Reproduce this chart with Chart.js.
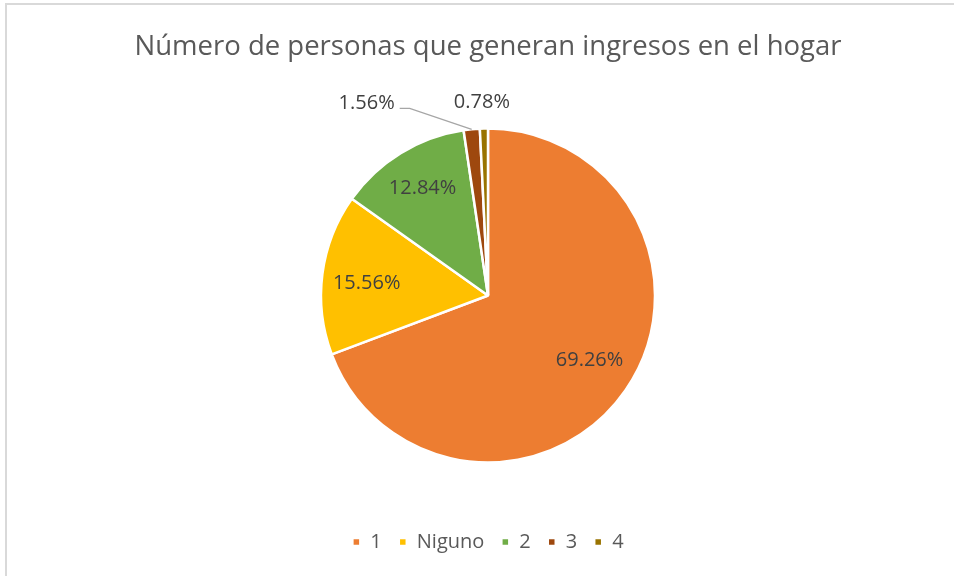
<!DOCTYPE html>
<html>
<head>
<meta charset="utf-8">
<script src="https://cdn.jsdelivr.net/npm/chart.js@4/dist/chart.umd.min.js"></script>
<style>
  html, body { margin: 0; padding: 0; background: #fff; }
  #wrap { position: relative; width: 954px; height: 576px; overflow: hidden; }
  #frame { position: absolute; left: 5px; top: 3px; width: 1000px; height: 620px; border: 2px solid #d9d9d9; box-sizing: border-box; pointer-events: none; }
  canvas { position: absolute; left: 0; top: 0; }
</style>
</head>
<body>
<div id="wrap">
  <canvas id="c" width="954" height="576"></canvas>
  <div id="frame"></div>
</div>
<script>
const titleText = 'Número de personas que generan ingresos en el hogar';
const categories = ['1', 'Niguno', '2', '3', '4'];
const counts = [178, 40, 33, 4, 2];
const percentLabels = ['69.26%', '15.56%', '12.84%', '1.56%', '0.78%'];
const colors = ['#ED7D31', '#FFC000', '#70AD47', '#9E480E', '#997300'];

// label placement styling: inside labels by radial fraction, outside labels by pixel offset from arc edge
const labelStyle = [
  { inside: true, r: 0.72, da: -0.04 },
  { inside: true, r: 0.73, da: -0.03 },
  { inside: true, r: 0.75, da: 0 },
  { inside: false, dx: -77, dy: -26, align: 'right', leader: true },
  { inside: false, dx: -2, dy: -26, align: 'center', leader: false }
];

const labelPlugin = {
  id: 'pieLabels',
  afterDatasetsDraw(chart) {
    const ctx = chart.ctx;
    const meta = chart.getDatasetMeta(0);
    ctx.save();
    ctx.font = '20px "Open Sans"';
    ctx.fillStyle = '#404040';
    ctx.textBaseline = 'middle';
    meta.data.forEach((arc, i) => {
      const p = arc.getProps(['x', 'y', 'startAngle', 'endAngle', 'outerRadius'], true);
      const mid = (p.startAngle + p.endAngle) / 2;
      const st = labelStyle[i];
      const txt = percentLabels[i];
      if (st.inside) {
        const rr = p.outerRadius * st.r;
        const a = mid + st.da;
        ctx.textAlign = 'center';
        ctx.fillText(txt, p.x + Math.cos(a) * rr, p.y + Math.sin(a) * rr);
      } else {
        const ex = p.x + Math.cos(mid) * p.outerRadius;
        const ey = p.y + Math.sin(mid) * p.outerRadius;
        const lx = ex + st.dx, ly = ey + st.dy;
        ctx.textAlign = st.align;
        ctx.fillText(txt, lx, ly);
        if (st.leader) {
          ctx.strokeStyle = '#a6a6a6';
          ctx.lineWidth = 1.3;
          ctx.beginPath();
          ctx.moveTo(lx + 5, ly + 5);
          ctx.lineTo(lx + 15, ly + 5);
          ctx.lineTo(ex, ey);
          ctx.stroke();
        }
      }
    });
    ctx.restore();
  }
};

new Chart(document.getElementById('c'), {
  type: 'pie',
  data: {
    labels: categories,
    datasets: [{
      data: counts,
      backgroundColor: colors,
      borderColor: '#ffffff',
      borderWidth: 2.5,
      radius: 167
    }]
  },
  options: {
    responsive: false,
    animation: false,
    layout: { padding: { left: 22, right: 0, top: 0, bottom: 14 } },
    plugins: {
      tooltip: { enabled: false },
      title: {
        display: true,
        text: titleText,
        color: '#595959',
        font: { family: '"Open Sans"', size: 27.5, weight: 'normal' },
        padding: { top: 31, bottom: 12 }
      },
      legend: {
        display: true,
        position: 'bottom',
        labels: {
          color: '#595959',
          font: { family: '"Open Sans"', size: 20 },
          boxWidth: 8,
          boxHeight: 8,
          padding: 17
        }
      }
    }
  },
  plugins: [labelPlugin]
});
</script>
</body>
</html>
